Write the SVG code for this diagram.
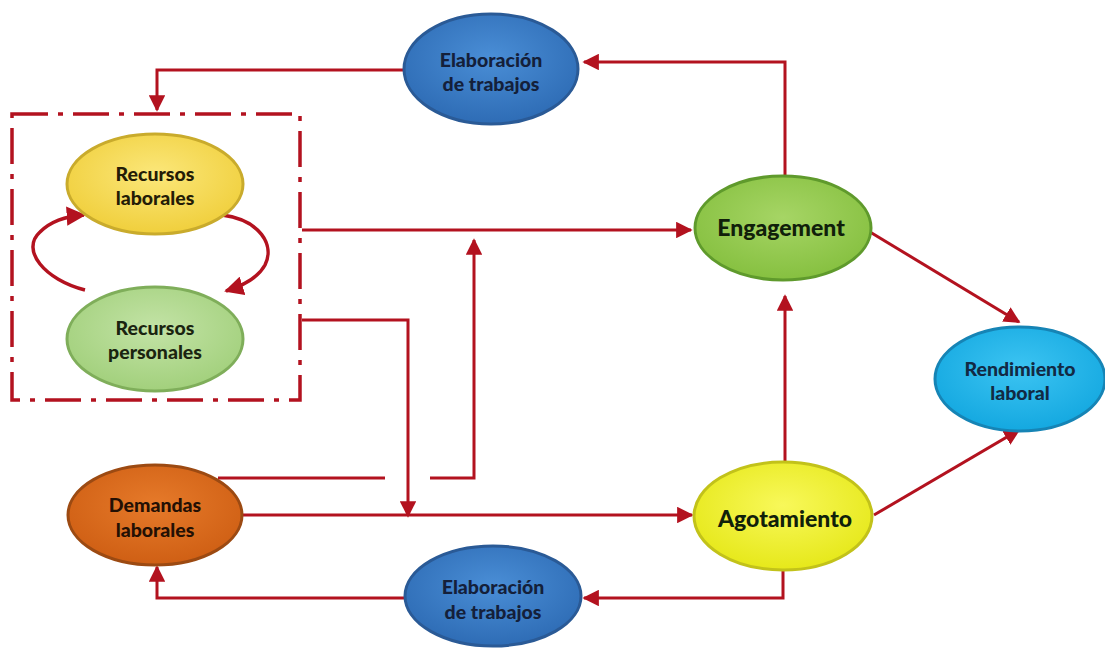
<svg xmlns="http://www.w3.org/2000/svg" width="1105" height="648" viewBox="0 0 1105 648">
<style>
.ln{fill:none;stroke:#b3121f;stroke-width:3}
.t{font-family:Lato,"Open Sans","Liberation Sans",sans-serif;font-weight:900;font-size:19.5px;text-anchor:middle}
.tb{font-family:Lato,"Open Sans","Liberation Sans",sans-serif;font-weight:900;font-size:23px;text-anchor:middle;fill:#10200a}
.box{fill:none;stroke:#b3121f;stroke-width:3.5;stroke-dasharray:36 10 5 10}
</style>
<defs>
<marker id="ah" viewBox="0 0 10 10" refX="9" refY="5" markerWidth="5.5" markerHeight="5.5" orient="auto" markerUnits="strokeWidth"><path d="M0,0 L10,5 L0,10 z" fill="#b3121f"/></marker>
<radialGradient id="gBlue" cx="0.5" cy="0.4" r="0.6"><stop offset="0" stop-color="#4a8ed6"/><stop offset="1" stop-color="#2e6cb5"/></radialGradient>
<radialGradient id="gYel" cx="0.5" cy="0.4" r="0.6"><stop offset="0" stop-color="#fbe77a"/><stop offset="1" stop-color="#f0cf3c"/></radialGradient>
<radialGradient id="gLg" cx="0.5" cy="0.4" r="0.6"><stop offset="0" stop-color="#c3e3a6"/><stop offset="1" stop-color="#a2d07c"/></radialGradient>
<radialGradient id="gEng" cx="0.5" cy="0.4" r="0.6"><stop offset="0" stop-color="#a6d565"/><stop offset="1" stop-color="#86c040"/></radialGradient>
<radialGradient id="gAgo" cx="0.5" cy="0.4" r="0.6"><stop offset="0" stop-color="#f8f85a"/><stop offset="1" stop-color="#e6e81a"/></radialGradient>
<radialGradient id="gOr" cx="0.5" cy="0.4" r="0.6"><stop offset="0" stop-color="#e67a2a"/><stop offset="1" stop-color="#cf5f14"/></radialGradient>
<radialGradient id="gCy" cx="0.5" cy="0.4" r="0.6"><stop offset="0" stop-color="#3cc4f2"/><stop offset="1" stop-color="#14a8e0"/></radialGradient>
</defs>
<rect width="1105" height="648" fill="#fff"/>
<g id="connectors">
<rect class="box" x="12" y="114" width="288" height="286"/>
<path class="ln" d="M404,70 H157 V110" marker-end="url(#ah)"/>
<path class="ln" d="M785,175 V62 H584" marker-end="url(#ah)"/>
<path class="ln" d="M302,230 H691" marker-end="url(#ah)"/>
<path class="ln" d="M218,478 H385"/>
<path class="ln" d="M430,478 H474 V240" marker-end="url(#ah)"/>
<path class="ln" d="M302,320 H408 V516" marker-end="url(#ah)"/>
<path class="ln" d="M242,515 H692" marker-end="url(#ah)"/>
<path class="ln" d="M785,462 V296" marker-end="url(#ah)"/>
<path class="ln" d="M870,232 L1019,322" marker-end="url(#ah)"/>
<path class="ln" d="M874,515 L1019,430" marker-end="url(#ah)"/>
<path class="ln" d="M783,570 V598 H584" marker-end="url(#ah)"/>
<path class="ln" d="M405,598 H157 V567" marker-end="url(#ah)"/>
<path class="ln" style="stroke-width:3.5" d="M85,290 C45,280 20,250 40,232 C52,220 68,216 84,215" marker-end="url(#ah)"/>
<path class="ln" style="stroke-width:3.5" d="M222,215 C260,220 275,245 265,265 C258,278 242,286 226,291" marker-end="url(#ah)"/>
</g>
<g id="elab-top"><ellipse cx="491" cy="69" rx="87" ry="55" fill="url(#gBlue)" stroke="#2a5a96" stroke-width="3"/><text class="t" x="491" y="67" fill="#14203a">Elaboración</text><text class="t" x="491" y="91" fill="#14203a">de trabajos</text></g>
<g id="rec-lab"><ellipse cx="155" cy="184" rx="88" ry="50" fill="url(#gYel)" stroke="#c9ab2c" stroke-width="3"/><text class="t" x="155" y="181" fill="#241c06">Recursos</text><text class="t" x="155" y="205" fill="#241c06">laborales</text></g>
<g id="rec-per"><ellipse cx="155" cy="339" rx="88" ry="52" fill="url(#gLg)" stroke="#7fae5a" stroke-width="3"/><text class="t" x="155" y="335" fill="#1a2410">Recursos</text><text class="t" x="155" y="359" fill="#1a2410">personales</text></g>
<g id="engagement"><ellipse cx="783" cy="228" rx="88" ry="52" fill="url(#gEng)" stroke="#5f9a2c" stroke-width="3"/><text class="tb" x="781" y="236">Engagement</text></g>
<g id="rendimiento"><ellipse cx="1020" cy="379" rx="85" ry="52" fill="url(#gCy)" stroke="#1684b5" stroke-width="3"/><text class="t" x="1020" y="376" fill="#122a44">Rendimiento</text><text class="t" x="1020" y="400" fill="#122a44">laboral</text></g>
<g id="demandas"><ellipse cx="155" cy="515" rx="87" ry="50" fill="url(#gOr)" stroke="#9c4a12" stroke-width="3"/><text class="t" x="155" y="512" fill="#241004">Demandas</text><text class="t" x="155" y="537" fill="#241004">laborales</text></g>
<g id="agotamiento"><ellipse cx="783" cy="516" rx="89" ry="54" fill="url(#gAgo)" stroke="#c2c21a" stroke-width="3"/><text class="tb" x="785" y="527" fill="#181806">Agotamiento</text></g>
<g id="elab-bot"><ellipse cx="493" cy="596" rx="88" ry="50" fill="url(#gBlue)" stroke="#2a5a96" stroke-width="3"/><text class="t" x="493" y="594" fill="#14203a">Elaboración</text><text class="t" x="493" y="619" fill="#14203a">de trabajos</text></g>
</svg>
